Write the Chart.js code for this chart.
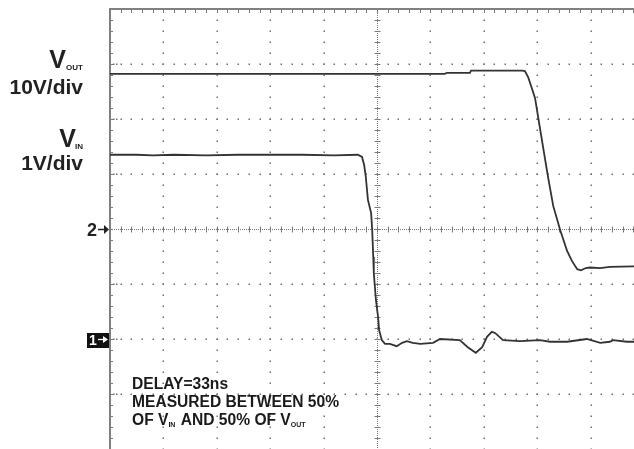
<!DOCTYPE html>
<html>
<head>
<meta charset="utf-8">
<script src="https://cdn.jsdelivr.net/npm/chart.js@4/dist/chart.umd.min.js"></script>
<style>
html, body { margin: 0; padding: 0; background: #fff; overflow: hidden; }
#wrap { position: relative; width: 634px; height: 449px; overflow: hidden; }
#scope { position: absolute; left: 0; top: 0; }
</style>
</head>
<body>
<div id="wrap"><canvas id="scope" width="660" height="470"></canvas></div>
<script>
// time in ns (10ns/div), volts per channel
const vinTime  = [0, 5, 8, 12, 18, 24, 30, 36, 42, 46.4, 47.2, 47.6, 47.9, 48.3, 48.9, 49.1, 49.3, 49.4, 49.8, 50.2, 50.4, 50.9, 51.5, 52.4, 53.7, 54.7, 55.6, 56.7, 58.1, 60.5, 61.8, 65.5, 67.0, 68.5, 69.7, 70.6, 71.5, 72.1, 73.6, 76.8, 80.5, 82.4, 85.6, 89.3, 91.8, 93.6, 94.2, 96.8, 100];
const vinVolts = [3.35, 3.35, 3.34, 3.35, 3.34, 3.35, 3.35, 3.35, 3.34, 3.35, 3.31, 3.16, 2.95, 2.53, 2.29, 1.98, 1.49, 1.20, 0.71, 0.40, 0.16, -0.02, -0.09, -0.09, -0.13, -0.07, -0.04, -0.07, -0.09, -0.07, 0.0, -0.02, -0.15, -0.25, -0.15, 0.04, 0.13, 0.11, -0.02, -0.04, -0.02, -0.05, -0.05, 0.0, -0.07, -0.05, -0.02, -0.05, -0.05];

const voutTime  = [0, 10, 20, 30, 40, 50, 62.7, 63.1, 67.4, 67.6, 77.2, 77.7, 78.3, 79.0, 79.6, 80.3, 81.1, 82.0, 83.0, 84.3, 85.6, 86.5, 87.5, 88.2, 89.1, 89.9, 91.8, 93.6, 98.1, 100];
const voutVolts = [28.2, 28.2, 28.2, 28.2, 28.2, 28.2, 28.2, 28.4, 28.4, 28.8, 28.8, 28.7, 27.6, 25.6, 23.8, 19.6, 14.9, 9.6, 4.2, -0.2, -4.0, -5.8, -7.3, -7.5, -7.1, -7.0, -7.1, -6.9, -6.8, -6.8];

const vinVoltsPerDiv = 1, vinOffsetDiv = -2;
const voutVoltsPerDiv = 10, voutOffsetDiv = 0;

function toDivs(times, volts, perDiv, offset) {
  return times.map((t, i) => ({ x: t, y: volts[i] / perDiv + offset }));
}

const graticule = {
  id: 'graticule',
  beforeDatasetsDraw(chart) {
    const { ctx, chartArea: a, scales: { x, y } } = chart;
    ctx.save();
    ctx.fillStyle = '#707070';
    // major divisions, drawn as dots at the minor steps
    for (let i = 1; i < 10; i++) {
      if (i === 5) continue;
      const px = Math.round(x.getPixelForValue(i * 10));
      for (let j = 0; j <= 40; j++) {
        const py = Math.round(y.getPixelForValue(-4 + j * 0.2));
        ctx.fillRect(px - 0.5, py - 0.5, 1.5, 1.5);
      }
    }
    for (let j = -3; j <= 3; j++) {
      if (j === 0) continue;
      const py = Math.round(y.getPixelForValue(j));
      for (let i = 0; i <= 50; i++) {
        const px = Math.round(x.getPixelForValue(i * 2));
        ctx.fillRect(px - 0.5, py - 0.5, 1.5, 1.5);
      }
      ctx.fillRect(a.left + 3, py - 0.5, 1.5, 1.5);
      ctx.fillRect(a.left + 6, py - 0.5, 1.5, 1.5);
    }
    // centre axes
    const cx = Math.round(x.getPixelForValue(50)) + 0.5;
    const cy = Math.round(y.getPixelForValue(0)) + 0.5;
    ctx.strokeStyle = '#7a7a7a';
    ctx.lineWidth = 1;
    ctx.setLineDash([1, 1]);
    ctx.beginPath();
    ctx.moveTo(cx, a.top); ctx.lineTo(cx, a.bottom);
    ctx.moveTo(a.left, cy); ctx.lineTo(a.right, cy);
    ctx.stroke();
    ctx.setLineDash([]);
    ctx.beginPath();
    for (let i = 0; i <= 50; i++) {
      const px = Math.round(x.getPixelForValue(i * 2)) + 0.5;
      ctx.moveTo(px, cy - 3); ctx.lineTo(px, cy + 3);
      ctx.moveTo(px, a.top); ctx.lineTo(px, a.top + 4);
    }
    for (let j = 0; j <= 40; j++) {
      const py = Math.round(y.getPixelForValue(-4 + j * 0.2)) + 0.5;
      ctx.moveTo(cx - 3, py); ctx.lineTo(cx + 3, py);
      ctx.moveTo(a.left, py); ctx.lineTo(a.left + 3, py);
    }
    ctx.stroke();
    // frame: only the left and top edges fall inside the picture
    ctx.strokeStyle = '#808080';
    ctx.lineWidth = 2;
    ctx.beginPath();
    ctx.moveTo(a.left, a.bottom + 5); ctx.lineTo(a.left, a.top); ctx.lineTo(a.right + 5, a.top);
    ctx.stroke();
    ctx.restore();
  },
  afterDraw(chart) {
    const { ctx, scales: { y } } = chart;
    ctx.save();
    ctx.fillStyle = '#222';
    ctx.textBaseline = 'alphabetic';
    const big = 'bold 21px Arial, "Liberation Sans", sans-serif';
    const bigV = 'bold 25px Arial, "Liberation Sans", sans-serif';
    const sub = 'bold 8px Arial, "Liberation Sans", sans-serif';
    // channel labels
    ctx.textAlign = 'right';
    ctx.font = sub; ctx.fillText('OUT', 83, 70);
    ctx.font = bigV; ctx.fillText('V', 66, 68);
    ctx.font = big; ctx.fillText('10V/div', 83, 94);
    ctx.font = sub; ctx.fillText('IN', 83, 149);
    ctx.font = bigV; ctx.fillText('V', 76, 147);
    ctx.font = big; ctx.fillText('1V/div', 83, 170);

    // ground markers
    const g2 = Math.round(y.getPixelForValue(voutOffsetDiv));
    const g1 = Math.round(y.getPixelForValue(vinOffsetDiv));
    ctx.textAlign = 'left';
    ctx.font = 'bold 18px Arial, "Liberation Sans", sans-serif';
    ctx.fillText('2', 87, g2 + 7);
    ctx.strokeStyle = '#222'; ctx.lineWidth = 1.5;
    ctx.beginPath(); ctx.moveTo(98, g2 + 0.5); ctx.lineTo(105, g2 + 0.5); ctx.stroke();
    ctx.beginPath(); ctx.moveTo(104, g2 - 4); ctx.lineTo(109, g2 + 0.5); ctx.lineTo(104, g2 + 5); ctx.closePath(); ctx.fill();

    ctx.fillStyle = '#111';
    ctx.fillRect(87, g1 - 6, 22, 15);
    ctx.fillStyle = '#fff';
    ctx.font = 'bold 14px Arial, "Liberation Sans", sans-serif';
    ctx.fillText('1', 89, g1 + 6);
    ctx.strokeStyle = '#fff'; ctx.lineWidth = 1.3;
    ctx.beginPath(); ctx.moveTo(98, g1 + 0.5); ctx.lineTo(104, g1 + 0.5); ctx.stroke();
    ctx.beginPath(); ctx.moveTo(103, g1 - 3); ctx.lineTo(108, g1 + 0.5); ctx.lineTo(103, g1 + 4); ctx.closePath(); ctx.fill();

    // annotation
    ctx.fillStyle = '#1a1a1a';
    const note = 'bold 15.6px Arial, "Liberation Sans", sans-serif';
    const noteSub = 'bold 7px Arial, "Liberation Sans", sans-serif';
    ctx.font = note;
    ctx.fillText('DELAY=33ns', 132, 389);
    ctx.fillText('MEASURED BETWEEN 50%', 132, 407);
    let px = 132;
    const parts = [['OF V', note], ['IN', noteSub], [' AND 50% OF V', note], ['OUT', noteSub]];
    parts.forEach(([s, f]) => {
      ctx.font = f;
      ctx.fillText(s, px, f === noteSub ? 427 : 425);
      px += ctx.measureText(s).width + (f === noteSub ? 1 : 0);
    });
    ctx.restore();
  }
};

new Chart(document.getElementById('scope'), {
  type: 'line',
  data: {
    datasets: [{
      label: 'VOUT',
      data: toDivs(voutTime, voutVolts, voutVoltsPerDiv, voutOffsetDiv),
      borderColor: '#333',
      borderWidth: 1.8,
      pointRadius: 0,
      tension: 0
    }, {
      label: 'VIN',
      data: toDivs(vinTime, vinVolts, vinVoltsPerDiv, vinOffsetDiv),
      borderColor: '#333',
      borderWidth: 1.8,
      pointRadius: 0,
      tension: 0
    }]
  },
  options: {
    responsive: false,
    animation: false,
    devicePixelRatio: 1,
    layout: { padding: { left: 110, top: 9, right: 16, bottom: 21 } },
    scales: {
      x: { type: 'linear', min: 0, max: 100, display: false },
      y: { type: 'linear', min: -4, max: 4, display: false }
    },
    plugins: {
      legend: { display: false },
      tooltip: { enabled: false }
    }
  },
  plugins: [graticule]
});
</script>
</body>
</html>
